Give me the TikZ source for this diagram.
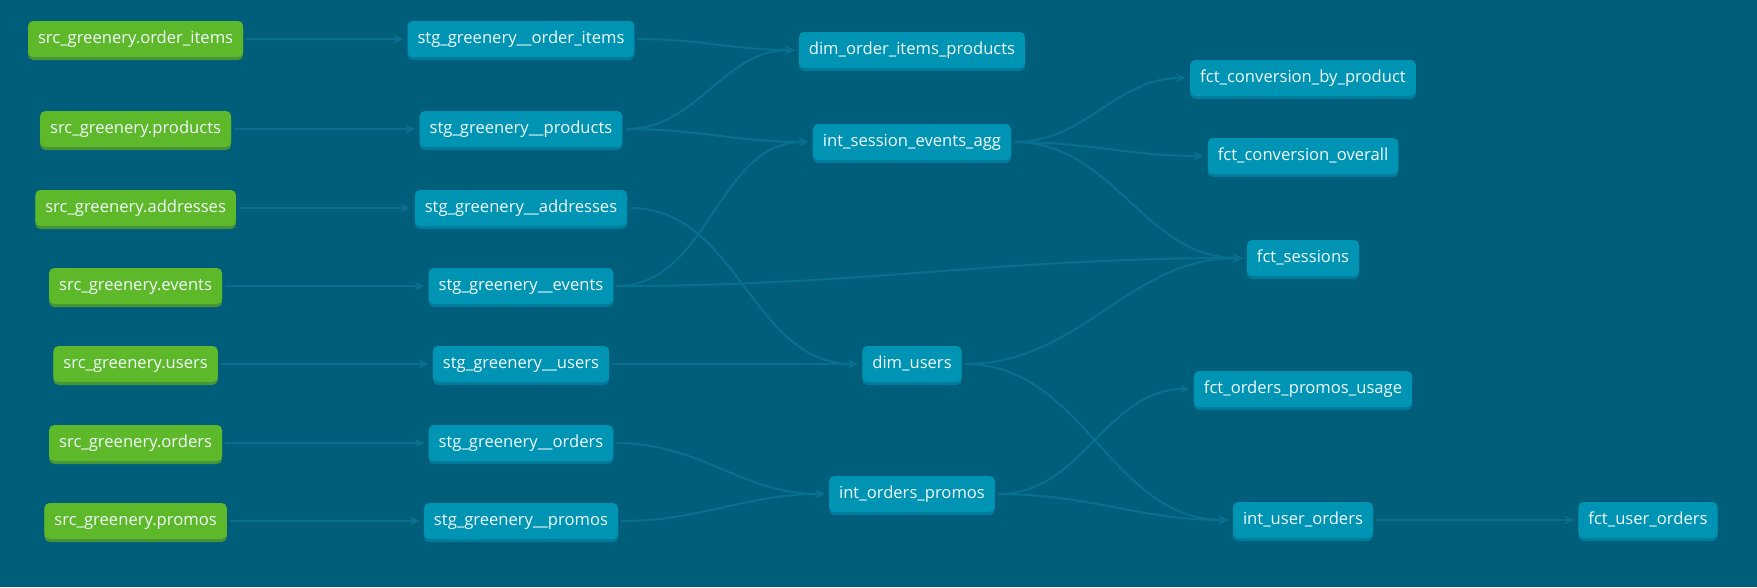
\documentclass[tikz,border=0pt]{standalone}
\usepackage{fontspec}
\setmainfont{Open Sans}
\usepackage{xcolor}
\usetikzlibrary{arrows.meta,shadows}
\definecolor{dag-bg}{HTML}{005E7A}
\definecolor{dag-edge}{HTML}{0A6F8E}
\definecolor{src-green}{HTML}{5DB82A}
\definecolor{src-green-dark}{HTML}{46933A}
\definecolor{model-blue}{HTML}{0094B4}
\definecolor{model-blue-dark}{HTML}{007B9A}
\tikzset{
    dag-box/.style = {rectangle, rounded corners=5pt, text=white!95!model-blue, inner xsep=10pt, inner ysep=10pt, text height=12pt, text depth=4pt, font=\fontsize{16.6}{19}\selectfont},
    src-box/.style = {dag-box, fill=src-green, general shadow={fill=src-green-dark, shadow xshift=0pt, shadow yshift=-3pt}},
    model-box/.style = {dag-box, fill=model-blue, general shadow={fill=model-blue-dark, shadow xshift=0pt, shadow yshift=-3pt}},
    lineage-edge/.style = {draw=dag-edge, line width=2pt, out=0, in=180, shorten <=3pt, shorten >=4pt, -{Stealth[length=10pt, width=9pt, inset=3pt]}},
}

\begin{document}
\begin{tikzpicture}[x=1pt, y=-1pt]
\fill[dag-bg] (0,0) rectangle (1757,587);
\useasboundingbox (0,0) rectangle (1757,587);

\node[src-box] (src-order-items) at (135.6,39) {src\_greenery.order\_items};
\node[src-box] (src-products) at (135.6,129) {src\_greenery.products};
\node[src-box] (src-addresses) at (135.6,208) {src\_greenery.addresses};
\node[src-box] (src-events) at (135.6,286) {src\_greenery.events};
\node[src-box] (src-users) at (135.6,364) {src\_greenery.users};
\node[src-box] (src-orders) at (135.6,443) {src\_greenery.orders};
\node[src-box] (src-promos) at (135.6,521) {src\_greenery.promos};

\node[model-box] (stg-order-items) at (521,39) {stg\_greenery\_\_order\_items};
\node[model-box] (stg-products) at (521,129) {stg\_greenery\_\_products};
\node[model-box] (stg-addresses) at (521,208) {stg\_greenery\_\_addresses};
\node[model-box] (stg-events) at (521,286) {stg\_greenery\_\_events};
\node[model-box] (stg-users) at (521,364) {stg\_greenery\_\_users};
\node[model-box] (stg-orders) at (521,443) {stg\_greenery\_\_orders};
\node[model-box] (stg-promos) at (521,521) {stg\_greenery\_\_promos};

\node[model-box] (dim-oip) at (912,50) {dim\_order\_items\_products};
\node[model-box] (int-sea) at (912,142) {int\_session\_events\_agg};
\node[model-box] (dim-users) at (912,364) {dim\_users};
\node[model-box] (int-op) at (912,494) {int\_orders\_promos};

\node[model-box] (fct-cbp) at (1303,78) {fct\_conversion\_by\_product};
\node[model-box] (fct-co) at (1303,156) {fct\_conversion\_overall};
\node[model-box] (fct-sessions) at (1303,258) {fct\_sessions};
\node[model-box] (fct-opu) at (1303,389) {fct\_orders\_promos\_usage};
\node[model-box] (int-uo) at (1303,520) {int\_user\_orders};
\node[model-box] (fct-uo) at (1648,520) {fct\_user\_orders};

\draw[lineage-edge] (src-order-items) to (stg-order-items);
\draw[lineage-edge] (src-products) to (stg-products);
\draw[lineage-edge] (src-addresses) to (stg-addresses);
\draw[lineage-edge] (src-events) to (stg-events);
\draw[lineage-edge] (src-users) to (stg-users);
\draw[lineage-edge] (src-orders) to (stg-orders);
\draw[lineage-edge] (src-promos) to (stg-promos);

\draw[lineage-edge] (stg-order-items) to (dim-oip);
\draw[lineage-edge] (stg-products) to (dim-oip);
\draw[lineage-edge] (stg-products) to (int-sea);
\draw[lineage-edge] (stg-events) to (int-sea);
\draw[lineage-edge] (stg-addresses) to (dim-users);
\draw[lineage-edge] (stg-users) to (dim-users);
\draw[lineage-edge] (stg-orders) to (int-op);
\draw[lineage-edge] (stg-promos) to (int-op);
\draw[lineage-edge] (stg-events) to (fct-sessions);

\draw[lineage-edge] (int-sea) to (fct-cbp);
\draw[lineage-edge] (int-sea) to (fct-co);
\draw[lineage-edge] (int-sea) to (fct-sessions);
\draw[lineage-edge] (dim-users) to (fct-sessions);
\draw[lineage-edge] (dim-users) to (int-uo);
\draw[lineage-edge] (int-op) to (fct-opu);
\draw[lineage-edge] (int-op) to (int-uo);
\draw[lineage-edge] (int-uo) to (fct-uo);
\end{tikzpicture}
\end{document}
